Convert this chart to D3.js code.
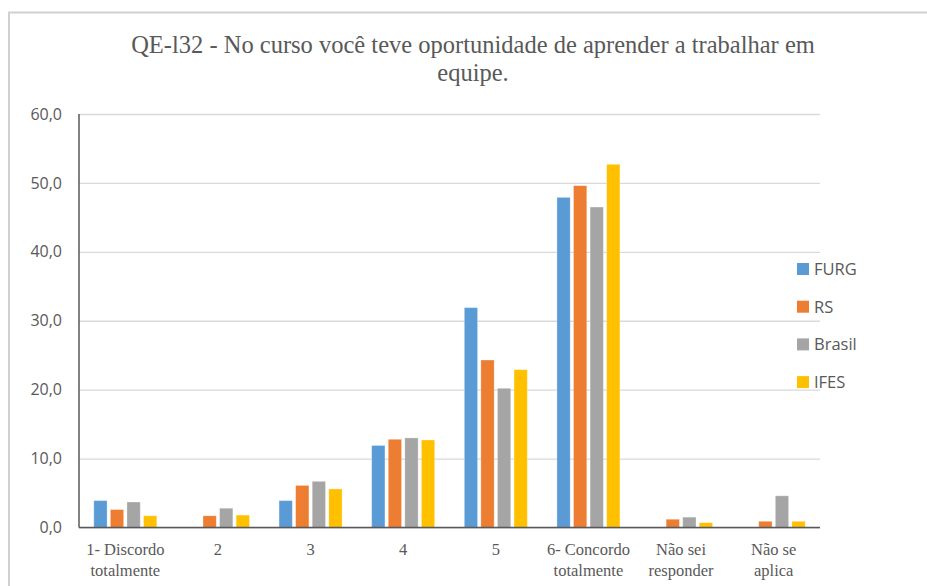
<!DOCTYPE html>
<html>
<head>
<meta charset="utf-8">
<script src="https://cdn.jsdelivr.net/npm/d3@7"></script>
<style>
  body { margin: 0; background: #fff; }
</style>
</head>
<body>
<svg width="927" height="586"></svg>
<script>
// data
var categories = [["1- Discordo", "totalmente"], ["2"], ["3"], ["4"], ["5"],
                  ["6- Concordo", "totalmente"], ["Não sei", "responder"], ["Não se", "aplica"]];
var series = ["FURG", "RS", "Brasil", "IFES"];
var colors = ["#5B9BD5", "#ED7D31", "#A5A5A5", "#FFC000"];
var furg   = [3.9, 0,   3.9, 11.9, 31.9, 47.9, 0,   0];
var rs     = [2.6, 1.7, 6.1, 12.8, 24.3, 49.6, 1.2, 0.9];
var brasil = [3.7, 2.8, 6.7, 13.0, 20.2, 46.5, 1.5, 4.6];
var ifes   = [1.7, 1.8, 5.6, 12.7, 22.9, 52.7, 0.7, 0.9];
var yTicks = [0, 10, 20, 30, 40, 50, 60];

var values = [furg, rs, brasil, ifes];
var data = categories.map(function (c, i) {
    return { key: i, label: c, vals: series.map(function (s, j) { return { s: s, v: values[j][i], c: colors[j] }; }) };
});

var serif = "'Liberation Serif', 'Times New Roman', serif";
var sans = "'Open Sans', sans-serif";

var svg = d3.select("svg");
var pLeft = 79, pRight = 820, pTop = 114, pBottom = 527.5;

// outer frame
svg.append("rect")
    .attr("x", 9).attr("y", 12.5)
    .attr("width", 940).attr("height", 600)
    .attr("fill", "none").attr("stroke", "#d0d0d0").attr("stroke-width", 2);

svg.append("text")
    .attr("x", 473).attr("y", 53)
    .attr("text-anchor", "middle")
    .attr("font-family", serif)
    .attr("font-size", "24.5px").attr("fill", "#595959")
    .text("QE-l32 - No curso você teve oportunidade de aprender a trabalhar em");
svg.append("text")
    .attr("x", 473).attr("y", 81)
    .attr("text-anchor", "middle")
    .attr("font-family", serif)
    .attr("font-size", "24.5px").attr("fill", "#595959")
    .text("equipe.");

var x0 = d3.scaleBand().domain(data.map(function (d) { return d.key; }))
    .range([pLeft, pRight]).paddingInner(0.32).paddingOuter(0.16);
var x1 = d3.scaleBand().domain(series).range([0, x0.bandwidth()]).paddingInner(0.2);
var y = d3.scaleLinear().domain([0, 60]).range([pBottom, pTop]);

// gridlines + y labels
var yAxis = d3.axisLeft(y).tickValues(yTicks).tickSize(-(pRight - pLeft)).tickPadding(17)
    .tickFormat(function (d) { return d3.format(".1f")(d).replace(".", ","); });
var gy = svg.append("g").attr("transform", "translate(" + pLeft + ",0)").call(yAxis);
gy.select(".domain").remove();
gy.selectAll("line").attr("stroke", "#d9d9d9").attr("stroke-width", 1.3);
gy.selectAll("text")
    .attr("font-family", sans).attr("font-size", "16px").attr("fill", "#595959");

// bars
var groups = svg.selectAll(".grp").data(data).enter().append("g")
    .attr("class", "grp")
    .attr("transform", function (d) { return "translate(" + x0(d.key) + ",0)"; });
groups.selectAll("rect").data(function (d) { return d.vals.filter(function (v) { return v.v > 0; }); })
    .enter().append("rect")
    .attr("x", function (d) { return x1(d.s); })
    .attr("y", function (d) { return y(d.v); })
    .attr("width", x1.bandwidth())
    .attr("height", function (d) { return pBottom - y(d.v); })
    .attr("fill", function (d) { return d.c; })
    .attr("stroke", "#fff").attr("stroke-opacity", 0.35).attr("stroke-width", 0.8);

// axis lines
svg.append("line").attr("x1", pLeft).attr("x2", pLeft).attr("y1", pTop).attr("y2", pBottom)
    .attr("stroke", "#595959").attr("stroke-width", 1.5);
svg.append("line").attr("x1", pLeft).attr("x2", pRight).attr("y1", pBottom).attr("y2", pBottom)
    .attr("stroke", "#595959").attr("stroke-width", 1.5);

// x labels
var xl = svg.selectAll(".xl").data(data).enter().append("text")
    .attr("class", "xl")
    .attr("text-anchor", "middle")
    .attr("font-family", serif)
    .attr("font-size", "16.5px").attr("fill", "#595959");
xl.selectAll("tspan").data(function (d) { return d.label.map(function (t, i) { return { t: t, i: i, cx: x0(d.key) + x0.bandwidth() / 2 }; }); })
    .enter().append("tspan")
    .attr("x", function (d) { return d.cx; })
    .attr("y", function (d) { return 555 + d.i * 21; })
    .text(function (d) { return d.t; });

// legend
var lg = svg.selectAll(".lg").data(series).enter().append("g")
    .attr("class", "lg")
    .attr("transform", function (d, i) { return "translate(797," + (269 + i * 37.7) + ")"; });
lg.append("rect").attr("x", 0).attr("y", -6).attr("width", 12).attr("height", 12)
    .attr("fill", function (d, i) { return colors[i]; });
lg.append("text").attr("x", 17).attr("y", 6)
    .attr("font-family", sans).attr("font-size", "16.5px").attr("fill", "#595959")
    .text(function (d) { return d; });
</script>
</body>
</html>
